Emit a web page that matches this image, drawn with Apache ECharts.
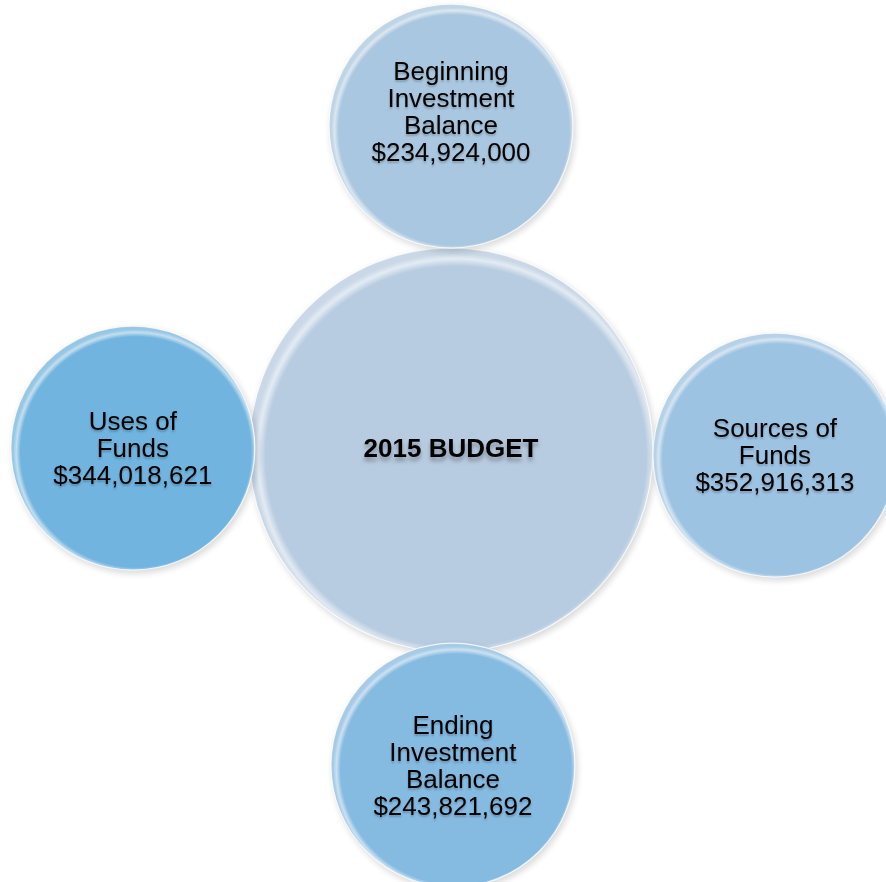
<!DOCTYPE html>
<html>
<head>
<meta charset="utf-8">
<title>2015 Budget</title>
<script src="https://cdn.jsdelivr.net/npm/echarts@6/dist/echarts.min.js"></script>
<style>
  html, body { margin: 0; padding: 0; background: #ffffff; }
  #chart { width: 886px; height: 882px; }
</style>
</head>
<body>
<div id="chart"></div>
<script>
// Hub title and the four budget items around it
const hubTitle = '2015 BUDGET';
const itemNames = [
  'Beginning\nInvestment\nBalance',
  'Sources of\nFunds',
  'Ending\nInvestment\nBalance',
  'Uses of\nFunds'
];
const itemAmounts = [234924000, 352916313, 243821692, 344018621];

// Hub-and-spoke layout in spoke units (1 = distance from hub to a spoke)
const hubPos = [0, 0];
const spokePos = [
  [0.0, 1.012],     // top
  [1.012, -0.016],  // right
  [0.006, -0.985],  // bottom
  [-0.994, 0.006]   // left
];
const spokeLabelShift = [[0, -13], [0, 2], [0, 2], [0, 2]];
const spokeColors = ['#A9C7E0', '#9DC3E3', '#85BAE1', '#70B4DF'];
const hubColor = '#B8CCE1';
const hubSize = 404;
const spokeSize = 244;

function lighten(hex, t) {
  const n = parseInt(hex.slice(1), 16);
  const r = (n >> 16) & 255, g = (n >> 8) & 255, b = n & 255;
  const m = c => Math.round(c + (255 - c) * t);
  return 'rgb(' + m(r) + ',' + m(g) + ',' + m(b) + ')';
}

// Flat glassy fill with a thin bright rim, brighter towards the upper left
function glassFill(hex) {
  return new echarts.graphic.RadialGradient(0.512, 0.516, 0.5, [
    { offset: 0, color: hex },
    { offset: 0.94, color: hex },
    { offset: 0.975, color: lighten(hex, 0.6) },
    { offset: 1, color: lighten(hex, 0.3) }
  ]);
}

const money = v => '$' + v.toLocaleString('en-US');

const textStyle = {
  color: '#000000',
  fontFamily: '"Liberation Sans", Arial, sans-serif',
  fontSize: 26,
  lineHeight: 27,
  textShadowColor: 'rgba(0,0,0,0.22)',
  textShadowBlur: 2,
  textShadowOffsetY: 2
};

const circleStyle = {
  opacity: 1,
  shadowColor: 'rgba(0,0,0,0.14)',
  shadowBlur: 6,
  shadowOffsetX: 2,
  shadowOffsetY: 3,
  borderColor: 'rgba(255,255,255,0.8)',
  borderWidth: 1.2
};

const hubData = [{
  value: hubPos,
  name: hubTitle,
  itemStyle: Object.assign({ color: glassFill(hubColor) }, circleStyle),
  label: Object.assign({}, textStyle, {
    show: true,
    position: 'inside',
    offset: [0, 0],
    fontWeight: 'bold',
    formatter: '{b}',
    textShadowColor: 'rgba(0,0,0,0.3)',
    textShadowBlur: 4,
    textShadowOffsetY: 4
  })
}];

const spokeData = itemNames.map((name, i) => ({
  value: spokePos[i],
  name: name,
  itemStyle: Object.assign({ color: glassFill(spokeColors[i]) }, circleStyle),
  label: Object.assign({}, textStyle, {
    show: true,
    position: 'inside',
    offset: spokeLabelShift[i],
    formatter: p => p.name + '\n' + money(itemAmounts[p.dataIndex])
  })
}));

const chart = echarts.init(document.getElementById('chart'), null, { renderer: 'canvas' });
chart.setOption({
  backgroundColor: '#ffffff',
  animation: false,
  grid: { left: 0, right: 0, top: 0, bottom: 0 },
  xAxis: { type: 'value', min: -1.409, max: 1.359, show: false },
  yAxis: { type: 'value', min: -1.35, max: 1.406, show: false },
  series: [
    {
      type: 'scatter',
      symbol: 'circle',
      symbolSize: hubSize,
      data: hubData,
      z: 1,
      silent: true
    },
    {
      type: 'scatter',
      symbol: 'circle',
      symbolSize: spokeSize,
      data: spokeData,
      z: 2,
      silent: true
    }
  ]
});
</script>
</body>
</html>
